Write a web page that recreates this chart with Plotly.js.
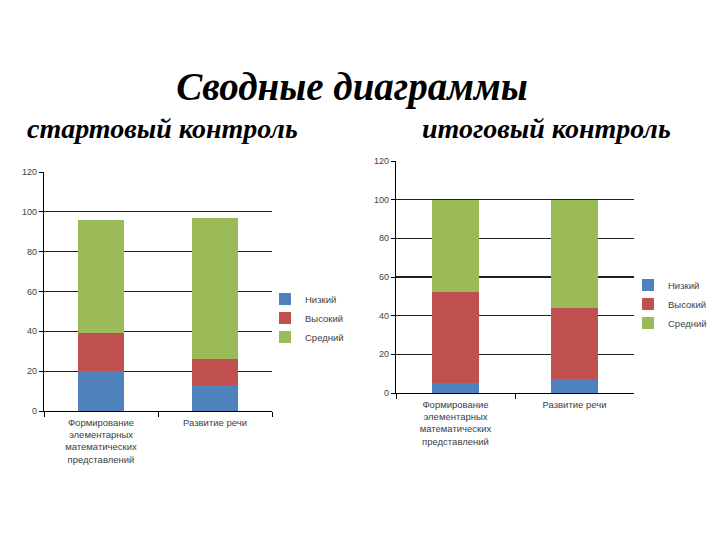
<!DOCTYPE html>
<html>
<head>
<meta charset="utf-8">
<script src="https://cdn.plot.ly/plotly-3.0.1.min.js"></script>
<style>html,body{margin:0;padding:0;background:#fff;}#chart{width:720px;height:540px;}</style>
</head>
<body>
<div id="chart"></div>
<script>
const categories = ["Формирование<br>элементарных<br>математических<br>представлений", "Развитие речи"];
const seriesNames = ["Низкий", "Высокий", "Средний"];
const startLow = [20, 13];
const startHigh = [19, 13];
const startMid = [57, 71];
const finalLow = [5, 7];
const finalHigh = [47, 37];
const finalMid = [48, 56];
const yTicks = [0, 20, 40, 60, 80, 100, 120];
const colors = ["#4F81BD", "#C0504D", "#9BBB59"];

const startSeries = [startLow, startHigh, startMid];
const finalSeries = [finalLow, finalHigh, finalMid];

const traces = [];
startSeries.forEach((vals, i) => {
  traces.push({type: "bar", name: seriesNames[i], x: categories, y: vals,
    xaxis: "x", yaxis: "y", legend: "legend",
    marker: {color: colors[i], line: {width: 0}}, hoverinfo: "skip"});
});
finalSeries.forEach((vals, i) => {
  traces.push({type: "bar", name: seriesNames[i], x: categories, y: vals,
    xaxis: "x2", yaxis: "y2", legend: "legend2",
    marker: {color: colors[i], line: {width: 0}}, hoverinfo: "skip"});
});

const tickFont = {family: "Liberation Sans, Arial, sans-serif", size: 9, color: "#404040"};
const catFont = {family: "Liberation Sans, Arial, sans-serif", size: 9.5, color: "#404040"};
const yBase = {range: [0, 120], tickvals: yTicks, showgrid: true, gridcolor: "#202020", gridwidth: 1.3,
  showline: true, linecolor: "#000", linewidth: 1.2, ticks: "outside", ticklen: 4, tickcolor: "#000",
  tickfont: tickFont, zeroline: false, fixedrange: true};
const xBase = {type: "category", tickson: "boundaries", ticks: "outside", ticklen: 5, tickcolor: "#000",
  showline: true, linecolor: "#000", linewidth: 1.2, showgrid: false, tickfont: catFont,
  ticklabelstandoff: 2, fixedrange: true};

const legendBase = {font: {family: "Liberation Sans, Arial, sans-serif", size: 9.5, color: "#404040"},
  traceorder: "normal", bgcolor: "rgba(0,0,0,0)", itemwidth: 30, tracegroupgap: 0};

const layout = {
  width: 720, height: 540,
  margin: {l: 0, r: 0, t: 0, b: 0},
  paper_bgcolor: "#fff", plot_bgcolor: "#fff",
  barmode: "stack", bargap: 0.6,
  showlegend: true,
  title: {text: "<b><i>Сводные диаграммы</i></b>", x: 352/720, xanchor: "center", y: 1 - 86/540, yanchor: "middle",
    yref: "container", font: {family: "Liberation Serif, Times New Roman, serif", size: 39, color: "#000"}},
  xaxis: Object.assign({}, xBase, {domain: [44/720, 272/720], anchor: "y"}),
  yaxis: Object.assign({}, yBase, {domain: [1 - 411/540, 1 - 172/540], anchor: "x"}),
  xaxis2: Object.assign({}, xBase, {domain: [396/720, 634/720], anchor: "y2"}),
  yaxis2: Object.assign({}, yBase, {domain: [1 - 393/540, 1 - 161/540], anchor: "x2"}),
  legend: Object.assign({}, legendBase, {x: 265/720, y: 1 - 318/540, xanchor: "left", yanchor: "middle"}),
  legend2: Object.assign({}, legendBase, {x: 628/720, y: 1 - 304/540, xanchor: "left", yanchor: "middle"}),
  annotations: [
    {text: "<b><i>стартовый контроль</i></b>", xref: "paper", yref: "paper", x: 162/720, y: 1 - 128/540,
      xanchor: "center", yanchor: "middle", showarrow: false,
      font: {family: "Liberation Serif, Times New Roman, serif", size: 28, color: "#000"}},
    {text: "<b><i>итоговый контроль</i></b>", xref: "paper", yref: "paper", x: 546/720, y: 1 - 128/540,
      xanchor: "center", yanchor: "middle", showarrow: false,
      font: {family: "Liberation Serif, Times New Roman, serif", size: 28, color: "#000"}}
  ]
};

Plotly.newPlot("chart", traces, layout, {staticPlot: true, displayModeBar: false});
</script>
</body>
</html>
